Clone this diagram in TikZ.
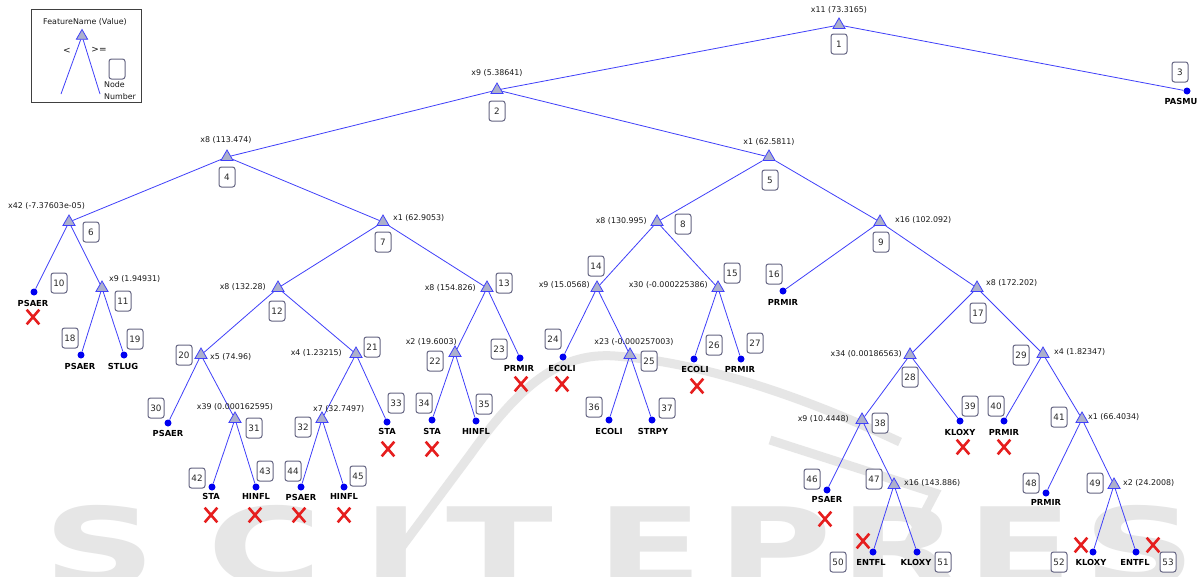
\documentclass[tikz,border=0pt]{standalone}
\usepackage{fontspec}
\setmainfont{DejaVu Sans}
\usetikzlibrary{shapes.geometric,shapes.misc}
\definecolor{edgeblue}{RGB}{64,64,250}
\definecolor{trigray}{RGB}{172,176,204}
\definecolor{dotblue}{RGB}{0,0,240}
\definecolor{boxgray}{RGB}{100,100,130}
\definecolor{numtext}{RGB}{40,40,40}
\definecolor{labtext}{RGB}{25,25,25}
\definecolor{xred}{RGB}{230,30,30}
\definecolor{wmgray}{RGB}{230,230,230}
\tikzset{
  split/.style={regular polygon, regular polygon sides=3, draw=edgeblue, fill=trigray, minimum size=14pt, inner sep=0pt, line width=0.8pt},
  leaf/.style={circle, fill=dotblue, minimum size=7pt, inner sep=0pt},
  num/.style={draw=boxgray, rounded corners=2.5pt, fill=white, minimum width=16pt, minimum height=20pt, inner sep=1pt, font=\fontsize{8.8}{9}\selectfont, text=numtext, line width=1pt},
  lab/.style={font=\fontsize{7.9}{9}\selectfont, text=labtext, inner sep=0pt},
  cls/.style={font=\bfseries\fontsize{8.3}{9}\selectfont, text=black, inner sep=0pt},
  xm/.style={cross out, draw=xred, line width=2.6pt, minimum width=10pt, minimum height=12pt, inner sep=0pt},
  conn/.style={draw=edgeblue, line width=0.8pt},
  wmletter/.style={font=\bfseries\fontsize{108}{108}\selectfont, text=wmgray, inner sep=0pt, anchor=base, xscale=1.45},
  wmstroke/.style={draw=wmgray, line width=9pt, line join=miter},
}
\begin{document}
\begin{tikzpicture}[x=1pt,y=-1pt]
\useasboundingbox (0,0) rectangle (1200,576);
\fill[white] (0,0) rectangle (1200,576);
\begin{scope}
\clip (0,0) rectangle (1200,576);
% watermark
\foreach \l/\x in {S/100,C/265,I/392,T/500,E/650,P/775,R/900,E/1020,S/1140}
  \node[wmletter] at (\x,585) {\l};
\draw[wmstroke] (380,576) -- (470,455) .. controls (520,385) and (560,352) .. (615,356) .. controls (700,362) and (800,395) .. (900,442);
\draw[wmstroke] (770,440) -- (935,493) -- (905,550);
\end{scope}

% legend
\node[draw=black!75, line width=0.7pt, minimum width=110pt, minimum height=93pt, inner sep=0pt] (legend) at (86,55.5) {};
\node[lab] (legtext) at (85,22) {FeatureName (Value)};
\node[split, minimum size=13pt] (legtri) at (82,36) {};
\coordinate (legl) at (61,94);
\coordinate (legr) at (100,94);
\draw[conn] (legtri) -- (legl);
\draw[conn] (legtri) -- (legr);
\node[lab, font=\fontsize{9}{9}\selectfont] (legless) at (67,51) {<};
\node[lab, font=\fontsize{9}{9}\selectfont] (leggeq) at (99,50) {>=};
\node[num] (legbox) at (117,69) {};
\node[lab, anchor=west] (legnode) at (104,85) {Node};
\node[lab, anchor=west] (legnum) at (104,97) {Number};

% split nodes
\foreach \n/\x/\y in {1/839/25,2/497/90,4/227/157,5/769/157,6/69/222,7/383/222,8/657/222,9/880/222,11/102/288,12/278/288,13/487/288,14/597/288,15/718/288,17/977/288,20/201/355,21/356/354,22/455/353,25/630/355,28/910/355,29/1043/354,31/235/419,32/322/419,38/862/420,41/1082/419,47/894/485,49/1114/485}
  \node[split] (n\n) at (\x,\y) {};

% leaf nodes
\foreach \n/\x/\y in {3/1187/91,10/34/292,16/783/291,18/81/355,19/124/355,23/520/358,24/563/357,26/694/359,27/741/359,30/168/423,33/387/422,34/432/420,35/476/421,36/609/420,37/652/420,39/960/421,40/1004/421,42/212/487,43/256/487,44/301/487,45/344/487,46/827/490,48/1046/493,50/873/552,51/917/552,52/1093/552,53/1136/552}
  \node[leaf] (n\n) at (\x,\y) {};

% connectors
\foreach \p/\c in {1/2,1/3,2/4,2/5,4/6,4/7,5/8,5/9,6/10,6/11,7/12,7/13,8/14,8/15,9/16,9/17,11/18,11/19,12/20,12/21,13/22,13/23,14/24,14/25,15/26,15/27,17/28,17/29,20/30,20/31,21/32,21/33,22/34,22/35,25/36,25/37,28/38,28/39,29/40,29/41,31/42,31/43,32/44,32/45,38/46,38/47,41/48,41/49,47/50,47/51,49/52,49/53}
  \draw[conn] (n\p) -- (n\c);

% node number boxes
\foreach \n/\x/\y in {1/839/44,2/497/111,3/1180/72,4/227/177,5/770/180,6/91/232,7/383/242,8/683/224,9/881/242,10/59/283,11/123/301,12/277/311,13/504/283,14/596/266,15/732/273,16/774/274,17/978/313,18/70/338,19/135/339,20/184/355,21/372/347,22/435/361,23/499/349,24/553/339,25/649/361,26/714/345,27/755/343,28/910/377,29/1021/355,30/156/408,31/254/428,32/303/427,33/396/403,34/424/403,35/484/404,36/594/407,37/667/408,38/880/423,39/970/406,40/996/406,41/1059/417,42/197/478,43/265/471,44/293/471,45/358/476,46/812/479,47/874/479,48/1031/483,49/1095/483,50/838/562,51/943/562,52/1059/562,53/1168/562}
  \node[num] (b\n) at (\x,\y) {\n};

% split labels
\node[lab] (s1) at (839,10) {x11 (73.3165)};
\node[lab] (s2) at (497,73) {x9 (5.38641)};
\node[lab] (s4) at (226,140) {x8 (113.474)};
\node[lab] (s5) at (769,142) {x1 (62.5811)};
\node[lab, anchor=west] (s6) at (8,206) {x42 (-7.37603e-05)};
\node[lab, anchor=west] (s7) at (393,218) {x1 (62.9053)};
\node[lab, anchor=east] (s8) at (647,221) {x8 (130.995)};
\node[lab, anchor=west] (s9) at (895,220) {x16 (102.092)};
\node[lab, anchor=west] (s11) at (109,279) {x9 (1.94931)};
\node[lab, anchor=east] (s12) at (266,287) {x8 (132.28)};
\node[lab, anchor=east] (s13) at (476,288) {x8 (154.826)};
\node[lab, anchor=east] (s14) at (590,285) {x9 (15.0568)};
\node[lab, anchor=east] (s15) at (708,285) {x30 (-0.000225386)};
\node[lab, anchor=west] (s17) at (986,283) {x8 (172.202)};
\node[lab, anchor=west] (s20) at (210,357) {x5 (74.96)};
\node[lab, anchor=east] (s21) at (342,353) {x4 (1.23215)};
\node[lab, anchor=east] (s22) at (457,342) {x2 (19.6003)};
\node[lab] (s25) at (634,342) {x23 (-0.000257003)};
\node[lab, anchor=east] (s28) at (902,354) {x34 (0.00186563)};
\node[lab, anchor=west] (s29) at (1054,352) {x4 (1.82347)};
\node[lab] (s31) at (235,407) {x39 (0.000162595)};
\node[lab, anchor=west] (s32) at (313,409) {x7 (32.7497)};
\node[lab, anchor=east] (s38) at (849,419) {x9 (10.4448)};
\node[lab, anchor=west] (s41) at (1088,417) {x1 (66.4034)};
\node[lab, anchor=west] (s47) at (904,483) {x16 (143.886)};
\node[lab, anchor=west] (s49) at (1123,483) {x2 (24.2008)};

% leaf class labels
\foreach \n/\x/\y/\t in {3/1181/101/PASMU,10/33/303/PSAER,16/783/302/PRMIR,18/80/366/PSAER,19/123/366/STLUG,23/519/368/PRMIR,24/562/368/ECOLI,26/695/369/ECOLI,27/740/369/PRMIR,30/168/433/PSAER,33/387/431/STA,34/432/431/STA,35/476/431/HINFL,36/609/431/ECOLI,37/653/431/STRPY,39/960/432/KLOXY,40/1004/432/PRMIR,42/211/496/STA,43/256/496/HINFL,44/301/497/PSAER,45/344/496/HINFL,46/827/499/PSAER,48/1046/502/PRMIR,50/871/562/ENTFL,51/916/562/KLOXY,52/1091/562/KLOXY,53/1135/562/ENTFL}
  \node[cls] (c\n) at (\x,\y) {\t};

% misclassification marks
\foreach \n/\x/\y in {10/33/317,23/521/384,24/562/384,26/697/386,33/388/449,34/432/449,39/963/447,40/1004/447,42/211/515,43/255/515,44/299/515,45/344/515,46/825/519,50/863/541,52/1081/545,53/1153/545}
  \node[xm] (x\n) at (\x,\y) {};
\end{tikzpicture}
\end{document}
